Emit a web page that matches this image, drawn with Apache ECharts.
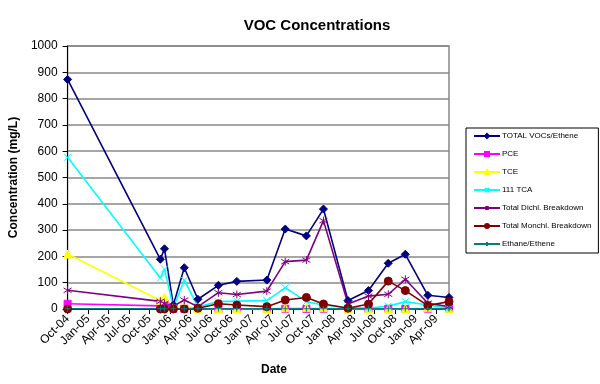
<!DOCTYPE html>
<html><head><meta charset="utf-8">
<script src="https://cdn.jsdelivr.net/npm/echarts@6/dist/echarts.min.js"></script>
<style>html,body{margin:0;padding:0;background:#fff}#c{width:600px;height:384px}</style>
</head><body><div id="c"></div>
<script>
// months since Oct-2004 for each sampling date
var months = [0, 13.6, 14.2, 15.5, 17.1, 19.1, 22.1, 24.8, 29.2, 31.9, 35.0, 37.5, 41.1, 44.1, 47.0, 49.5, 52.8, 55.9];
var tickLabels = ['Oct-04','Jan-05','Apr-05','Jul-05','Oct-05','Jan-06','Apr-06','Jul-06','Oct-06','Jan-07','Apr-07','Jul-07','Oct-07','Jan-08','Apr-08','Jul-08','Oct-08','Jan-09','Apr-09'];
var seriesNames = ['TOTAL VOCs/Ethene','PCE','TCE','111 TCA','Total Dichl. Breakdown','Total Monchl. Breakdown','Ethane/Ethene'];
var totalVOCs = [873, 189, 229, 15, 157, 37, 90, 105, 110, 304, 278, 380, 32, 70, 174, 208, 52, 44];
var pce       = [20, 12, 18, 1, 1, 1, 1, 1, 0, 1, 0, 1, 0, 1, 1, 0, 1, 0];
var tce       = [209, 32, 44, 5, 10, 2, 1, 2, 1, 5, 5, 5, 1, 1, 1, 1, 5, 1];
var tca       = [577, 118, 152, 5, 110, 8, 28, 30, 32, 81, 28, 15, 6, 3, 11, 28, 15, 3];
var dichl     = [71, 29, 21, 11, 34, 9, 62, 55, 68, 180, 186, 336, 19, 49, 56, 113, 22, 9];
var monchl    = [0, 0, 0, 0, 0, 3, 20, 15, 9, 34, 44, 19, 3, 19, 106, 70, 13, 28];
var ethane    = [1, 1, 1, 1, 1, 1, 1, 1, 1, 1, 1, 1, 1, 1, 1, 1, 1, 1];

var FONT = 'Liberation Sans, Arial, sans-serif';
function pts(vals){ return vals.map(function(v,i){ return [months[i], v]; }); }
var X_SYM = 'path://M0,0L10,10M10,0L0,10';
var STAR_SYM = 'path://M5,0L5,10M0,2L10,8M0,8L10,2';
var PLUS_SYM = 'path://M5,0L5,10M0,5L10,5';
function mk(name, vals, color, symbol, size){
  return {
    name: name, type: 'line', data: pts(vals), symbol: symbol, symbolSize: size,
    showAllSymbol: true,
    lineStyle: {color: color, width: 1.6},
    itemStyle: {color: color, borderColor: color, borderWidth: 1},
    emphasis: {disabled: true}, animation: false
  };
}
var series = [
  mk(seriesNames[0], totalVOCs, '#000080', 'diamond', 8),
  mk(seriesNames[1], pce, '#FF00FF', 'rect', 7),
  mk(seriesNames[2], tce, '#FFFF00', 'triangle', 8),
  mk(seriesNames[3], tca, '#00FFFF', X_SYM, 7),
  mk(seriesNames[4], dichl, '#800080', STAR_SYM, 8),
  mk(seriesNames[5], monchl, '#800000', 'circle', 8),
  mk(seriesNames[6], ethane, '#008080', PLUS_SYM, 6)
];

var chart = echarts.init(document.getElementById('c'), null, {renderer: 'canvas'});
chart.setOption({
  backgroundColor: '#fff',
  animation: false,
  title: {text: 'VOC Concentrations', left: 312, top: 13, textAlign: 'center',
    textStyle: {fontFamily: FONT, fontSize: 15, fontWeight: 'bold', color: '#000'}},
  grid: {left: 67, right: 151, top: 46, bottom: 75, show: true, borderColor: '#888', borderWidth: 1.5, backgroundColor: '#fff'},
  legend: {
    orient: 'vertical', left: 466, top: 128,
    data: seriesNames,
    itemWidth: 26, itemHeight: 5, itemGap: 8,
    padding: [3, 7, 4, 7],
    borderColor: '#000', borderWidth: 1, backgroundColor: '#fff',
    textStyle: {fontFamily: FONT, fontSize: 8, color: '#000', lineHeight: 10, padding: [0,0,0,-3]}
  },
  xAxis: {
    type: 'value', min: 0, max: 55.9, interval: 3,
    axisLine: {show: true, lineStyle: {color: '#000', width: 1}},
    axisTick: {show: true, length: 5, lineStyle: {color: '#000'}},
    splitLine: {show: false},
    axisLabel: {
      rotate: 45, margin: 8, showMaxLabel: false,
      fontFamily: FONT, fontSize: 12, color: '#000',
      formatter: function(v){
        var k = Math.round(v/3);
        if (Math.abs(v - k*3) < 1e-6 && tickLabels[k]) return tickLabels[k];
        return '';
      }
    }
  },
  yAxis: {
    type: 'value', min: 0, max: 1000, interval: 100,
    name: 'Concentration (mg/L)', nameLocation: 'middle', nameGap: 43, nameRotate: 90,
    nameTextStyle: {fontFamily: FONT, fontSize: 12, fontWeight: 'bold', color: '#000'},
    axisLine: {show: true, lineStyle: {color: '#000', width: 1}},
    axisTick: {show: true, length: 5, lineStyle: {color: '#000'}},
    splitLine: {show: true, lineStyle: {color: '#888', width: 1.5}},
    axisLabel: {margin: 10, fontFamily: FONT, fontSize: 12, color: '#000',
      formatter: function(v){ return String(v); }}
  },
  graphic: [{type: 'text', left: 261, top: 364,
    style: {text: 'Date', font: 'bold 12px ' + FONT, fill: '#000'}}],
  series: series
});
</script></body></html>
